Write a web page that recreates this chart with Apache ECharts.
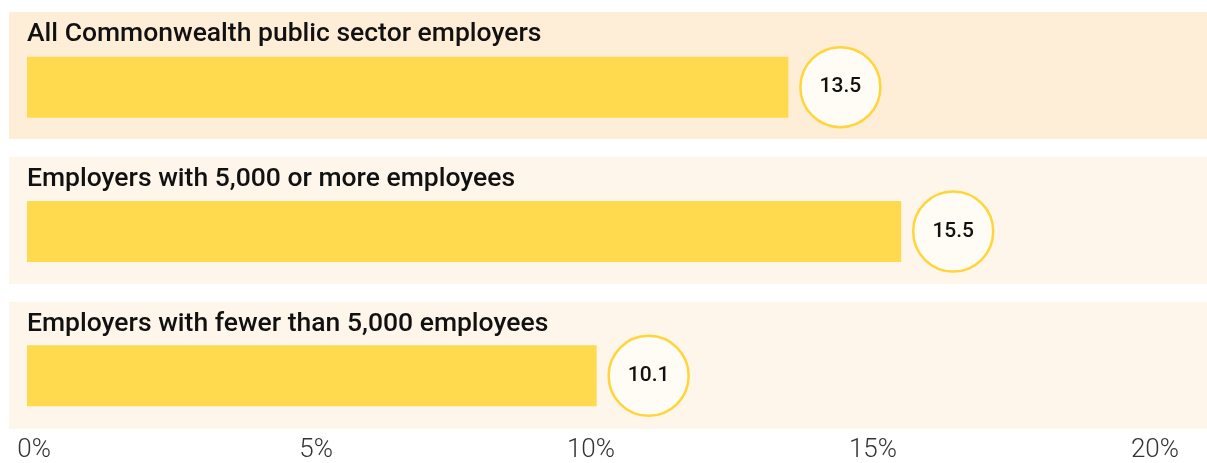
<!DOCTYPE html>
<html>
<head>
<meta charset="utf-8">
<script src="https://cdn.jsdelivr.net/npm/echarts@6/dist/echarts.min.js"></script>
<style>
html,body{margin:0;padding:0;background:#fff;}
#c{width:1207px;height:463px;}
</style>
</head>
<body>
<div id="c"></div>
<script>
const categories = [
  'All Commonwealth public sector employers',
  'Employers with 5,000 or more employees',
  'Employers with fewer than 5,000 employees'
];
const values = [13.5, 15.5, 10.1];
const tickValues = [0, 5, 10, 15, 20];
const bandFill = [1, 1, 1];

const FONT = 'Roboto, "Noto Sans", sans-serif';
const bandColors = ['#FEEDD7', '#FEF5EB', '#FEF5EB'];

const chart = echarts.init(document.getElementById('c'), null, {renderer: 'canvas'});
chart.setOption({
  animation: false,
  backgroundColor: '#ffffff',
  grid: [
    {left: 9, right: 0, top: 3, height: 435},
    {left: 27, right: 52, top: 15, height: 435}
  ],
  xAxis: [
    {gridIndex: 0, type: 'value', min: 0, max: 1, show: false},
    {
      gridIndex: 1, type: 'value', min: tickValues[0], max: tickValues[tickValues.length - 1], interval: 5,
      offset: -20,
      axisLine: {show: false}, axisTick: {show: false}, splitLine: {show: false},
      axisLabel: {
        margin: 9,
        formatter: v => '{a|' + v + '%}',
        rich: {a: {width: 48, align: 'right', fontFamily: FONT, fontWeight: 300, fontSize: 26, color: '#333'}}
      }
    }
  ],
  yAxis: [
    {gridIndex: 0, type: 'category', data: categories, inverse: true, show: false},
    {gridIndex: 1, type: 'category', data: categories, inverse: true, show: false}
  ],
  series: [
    {
      type: 'bar', xAxisIndex: 0, yAxisIndex: 0, barWidth: 127, silent: true,
      data: bandFill.map((v, i) => ({value: v, itemStyle: {color: bandColors[i]}})),
      label: {
        show: true, position: [18, 22], verticalAlign: 'middle', align: 'left',
        formatter: p => categories[p.dataIndex],
        fontFamily: FONT, fontWeight: 500, fontSize: 26.5, color: '#111'
      }
    },
    {
      type: 'bar', xAxisIndex: 1, yAxisIndex: 1, barWidth: 61,
      data: values,
      itemStyle: {color: '#FFDA4F'}
    },
    {
      type: 'scatter', xAxisIndex: 1, yAxisIndex: 1,
      data: values,
      symbol: 'circle', symbolSize: 80, symbolOffset: [52, 0],
      itemStyle: {color: '#FFFCF6', borderColor: '#FFD53A', borderWidth: 2.5, opacity: 1},
      label: {
        show: true, position: 'inside',
        formatter: p => p.value.toFixed(1),
        fontFamily: FONT, fontWeight: 500, fontSize: 21, color: '#111'
      },
      z: 5
    }
  ]
});
</script>
</body>
</html>
